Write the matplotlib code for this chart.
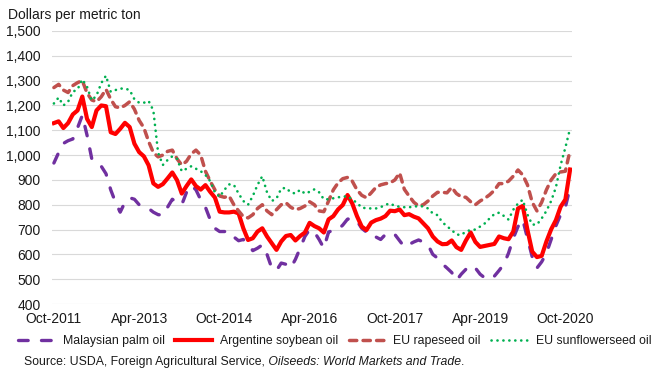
import numpy as np
import pandas as pd
import matplotlib
matplotlib.use("Agg")
import matplotlib.pyplot as plt
from matplotlib.ticker import FuncFormatter

plt.rcParams['font.family'] = ['Liberation Sans', 'DejaVu Sans']

# monthly prices, Oct-2011 .. Nov-2020 (dollars per metric ton)
months = pd.date_range("2011-10-01", periods=110, freq="MS")

palm = [968, 1010, 1047, 1058, 1065, 1110, 1160, 1080, 985, 975,
        955, 925, 860, 810, 770, 810, 828, 822, 800, 793,
        785, 770, 760, 758, 790, 822, 810, 800, 850, 878,
        860, 820, 790, 740, 705, 692, 692, 692, 670, 655,
        660, 640, 615, 625, 638, 600, 545, 535, 565, 560,
        545, 580, 625, 672, 700, 690, 660, 625, 690, 697,
        700, 718, 742, 745, 735, 705, 690, 690, 670, 660,
        680, 688, 680, 655, 630, 640, 650, 658, 650, 638,
        600, 585, 562, 545, 527, 495, 520, 540, 555, 545,
        520, 505, 500, 512, 535, 560, 605, 665, 712, 740,
        665, 590, 545, 570, 605, 660, 715, 760, 790, 870]

soy = [1129, 1136, 1109, 1129, 1164, 1180, 1236, 1146, 1113, 1180,
       1200, 1197, 1092, 1085, 1106, 1130, 1113, 1046, 1012, 995,
       959, 886, 872, 883, 906, 930, 899, 845, 875, 902,
       875, 861, 879, 852, 829, 772, 769, 769, 772, 765,
       705, 658, 665, 692, 705, 672, 645, 618, 652, 674,
       678, 656, 674, 688, 727, 714, 705, 688, 741, 754,
       781, 799, 839, 805, 754, 712, 698, 728, 738, 744,
       754, 776, 774, 781, 758, 762, 752, 745, 725, 705,
       672, 652, 641, 642, 656, 629, 618, 656, 688, 650,
       630, 634, 638, 642, 672, 665, 661, 692, 785, 795,
       698, 611, 589, 594, 652, 701, 738, 792, 821, 942]

rapeseed = [1272, 1285, 1262, 1252, 1280, 1292, 1300, 1250, 1222, 1215,
            1235, 1265, 1225, 1195, 1190, 1200, 1215, 1185, 1140, 1110,
            1055, 1010, 993, 1000, 1015, 1020, 985, 960, 975, 1005,
            1020, 1000, 935, 895, 860, 835, 830, 835, 800, 775,
            752, 747, 760, 785, 800, 775, 760, 780, 800, 808,
            790, 780, 785, 795, 812, 800, 775, 772, 815, 860,
            888, 905, 910, 895, 860, 838, 828, 848, 870, 880,
            885, 888, 900, 928, 862, 835, 810, 795, 800, 815,
            835, 850, 850, 848, 870, 845, 832, 830, 812, 800,
            815, 826, 840, 858, 885, 885, 895, 915, 940, 920,
            880, 810, 775, 810, 860, 900, 925, 932, 935, 1020]

sunflower = [1208, 1232, 1200, 1215, 1255, 1265, 1305, 1275, 1220, 1240,
             1290, 1320, 1255, 1262, 1268, 1268, 1262, 1225, 1211, 1211,
             1218, 1180, 1010, 960, 980, 995, 985, 935, 945, 955,
             945, 935, 920, 895, 850, 832, 860, 882, 880, 845,
             815, 800, 835, 880, 915, 850, 815, 825, 865, 868,
             850, 845, 860, 845, 852, 862, 850, 822, 822, 826,
             830, 832, 835, 820, 808, 788, 786, 785, 785, 790,
             800, 805, 795, 792, 790, 790, 792, 795, 793, 785,
             765, 758, 730, 713, 698, 680, 678, 692, 698, 700,
             712, 725, 745, 762, 768, 755, 740, 780, 805, 820,
             760, 720, 720, 745, 775, 815, 870, 960, 1030, 1108]

x = np.arange(len(months))

fig = plt.figure(figsize=(6.59, 3.81), dpi=100)
ax = fig.add_axes([52/659, 1 - 304/381, 520/659, 273/381])

l1, = ax.plot(x, palm, color="#7030A0", lw=2.4, dash_capstyle="round",
              label="Malaysian palm oil")
l1.set_dashes([2.9, 4.0])
l2, = ax.plot(x, soy, color="#FF0000", lw=3.0, solid_joinstyle="round",
              label="Argentine soybean oil")
l3, = ax.plot(x, rapeseed, color="#C0504D", lw=2.5, dash_capstyle="round",
              label="EU rapeseed oil")
l3.set_dashes([2.1, 1.8])
l4, = ax.plot(x, sunflower, color="#00B050", lw=1.9, dash_capstyle="round",
              label="EU sunflowerseed oil")
l4.set_dashes([0.05, 2.2])

ax.set_xlim(-0.4, 109.4)
ax.set_ylim(400, 1500)
ax.set_yticks(np.arange(400, 1501, 100))
ax.yaxis.set_major_formatter(FuncFormatter(lambda v, p: f"{int(v):,}"))
ticks = x[::18]
ax.set_xticks(ticks)
ax.set_xticklabels([months[i].strftime("%b-%Y") for i in ticks])
ax.tick_params(length=0, labelsize=10, colors="#1a1a1a")
ax.tick_params(axis="y", pad=8)
ax.tick_params(axis="x", pad=5.5)
for s in ax.spines.values():
    s.set_visible(False)
ax.grid(axis="y", color="#d9d9d9", lw=0.8)
ax.set_axisbelow(True)

fig.text(8/659, 1 - 15/381, "Dollars per metric ton", fontsize=10,
         va="center", ha="left", color="#1a1a1a")

fig.legend(handles=[l1, l2, l3, l4], loc="center", ncol=4, frameon=False,
           bbox_to_anchor=(0.508, 1 - 341/381), fontsize=8.8,
           handlelength=3.0, handletextpad=0.65, columnspacing=0.85,
           labelcolor="#1a1a1a")

# source line: plain text followed by the italic publication title
r = fig.canvas.get_renderer()
W = fig.bbox.width
ys = 1 - 365/381
t1 = fig.text(24/659, ys, "Source: USDA, Foreign Agricultural Service,",
              fontsize=8.8, va="baseline", ha="left", color="#1a1a1a")
x1 = t1.get_window_extent(r).x1 / W
t2 = fig.text(x1, ys, " Oilseeds: World Markets and Trade", style="italic",
              fontsize=8.8, va="baseline", ha="left", color="#1a1a1a")
x2 = t2.get_window_extent(r).x1 / W
fig.text(x2, ys, ".", fontsize=8.8, va="baseline", ha="left", color="#1a1a1a")

fig.savefig("out.png", dpi=100)
